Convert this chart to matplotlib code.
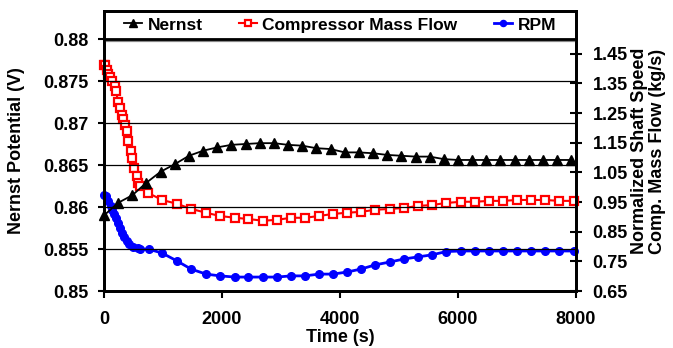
import matplotlib
matplotlib.use("Agg")
import matplotlib.pyplot as plt

plt.rcParams['font.family'] = ['Liberation Sans', 'DejaVu Sans']
plt.rcParams['font.weight'] = 'bold'

# Nernst potential (V), left axis
nernst_t = [0, 240, 480, 720, 960, 1200, 1440, 1680, 1920, 2160, 2400, 2640,
            2880, 3120, 3360, 3600, 3840, 4080, 4320, 4560, 4800, 5040, 5280,
            5520, 5760, 6000, 6240, 6480, 6720, 6960, 7200, 7440, 7680, 7920]
nernst_v = [0.8590, 0.8605, 0.8614, 0.8629, 0.8642, 0.8651, 0.8661, 0.8667,
            0.8671, 0.8674, 0.8675, 0.8676, 0.8676, 0.8674, 0.8673, 0.8670,
            0.8669, 0.8665, 0.8665, 0.8664, 0.8662, 0.8661, 0.8660, 0.8660,
            0.8657, 0.8656, 0.8656, 0.8656, 0.8656, 0.8656, 0.8656, 0.8656,
            0.8656, 0.8656]

# compressor mass flow (kg/s), right axis
flow_t = [0, 20, 45, 75, 100, 140, 185, 205, 240, 270, 300, 325, 355, 385,
          410, 450, 480, 515, 555, 570, 610, 745, 985, 1240, 1475, 1730,
          1965, 2220, 2440, 2695, 2930, 3170, 3405, 3645, 3880, 4120, 4355,
          4595, 4850, 5085, 5320, 5560, 5800, 6050, 6290, 6525, 6765, 7000,
          7240, 7475, 7715, 7965]
flow_v = [1.413, 1.413, 1.397, 1.383, 1.371, 1.357, 1.340, 1.323, 1.286,
          1.268, 1.245, 1.231, 1.211, 1.188, 1.157, 1.121, 1.099, 1.066,
          1.039, 1.015, 1.005, 0.981, 0.957, 0.944, 0.927, 0.914, 0.903,
          0.897, 0.893, 0.887, 0.890, 0.897, 0.897, 0.903, 0.910, 0.914,
          0.917, 0.924, 0.927, 0.930, 0.937, 0.940, 0.947, 0.951, 0.951,
          0.954, 0.954, 0.957, 0.957, 0.957, 0.954, 0.954]

# normalized shaft speed, right axis
rpm_t = [0, 30, 70, 115, 140, 170, 200, 230, 270, 310, 345, 385, 430, 495,
         570, 610, 760, 985, 1240, 1475, 1730, 1965, 2220, 2440, 2695, 2930,
         3170, 3405, 3645, 3880, 4120, 4355, 4595, 4850, 5085, 5320, 5560,
         5800, 6050, 6290, 6525, 6765, 7000, 7240, 7475, 7715, 7965]
rpm_v = [0.974, 0.969, 0.952, 0.937, 0.924, 0.910, 0.897, 0.880, 0.863,
         0.846, 0.832, 0.817, 0.808, 0.800, 0.794, 0.791, 0.791, 0.778,
         0.751, 0.724, 0.707, 0.701, 0.697, 0.697, 0.697, 0.697, 0.701,
         0.701, 0.707, 0.707, 0.714, 0.724, 0.738, 0.748, 0.758, 0.765,
         0.772, 0.783, 0.785, 0.785, 0.785, 0.785, 0.785, 0.785, 0.785,
         0.785, 0.785]

left_ticks = [0.85, 0.855, 0.86, 0.865, 0.87, 0.875, 0.88]
left_labels = ['0.85', '0.855', '0.86', '0.865', '0.87', '0.875', '0.88']
right_ticks = [0.65, 0.75, 0.85, 0.95, 1.05, 1.15, 1.25, 1.35, 1.45]
x_ticks = [0, 2000, 4000, 6000, 8000]

fig = plt.figure(figsize=(6.73, 3.48), dpi=100)
ax = fig.add_axes([104 / 673, 57 / 348, 472 / 673, 280 / 348])
ax2 = ax.twinx()
ax.set_zorder(ax2.get_zorder() + 1)
ax.patch.set_visible(False)

ax.set_xlim(0, 8000)
ax.set_ylim(0.85, 0.88 + 0.03 / 9)
ax2.set_ylim(0.65, 0.65 + 0.85 / 0.9)

ax.set_yticks(left_ticks)
ax.set_yticklabels(left_labels)
ax2.set_yticks(right_ticks)
ax.set_xticks(x_ticks)

ax.yaxis.grid(True, color='black', lw=0.9)
ax.axhline(0.88 - 0.00026, color='#888888', lw=1.6, zorder=2)
ax.axhline(0.88, color='black', lw=2.0, zorder=3)

h1, = ax.plot(nernst_t, nernst_v, color='black', lw=1.3, marker='^',
              ms=6.5, label='Nernst', clip_on=False, zorder=4)
h2, = ax2.plot(flow_t, flow_v, color='red', lw=1.5, marker='s', ms=5.5,
               mfc='white', mec='red', mew=1.6, label='Compressor Mass Flow',
               clip_on=False)
h3, = ax2.plot(rpm_t, rpm_v, color='blue', lw=2.0, marker='o', ms=5.5,
               label='RPM', clip_on=False)

for a in (ax, ax2):
    for s in a.spines.values():
        s.set_linewidth(2.0)

ax.tick_params(axis='y', direction='out', length=4.5, width=1.5,
               labelsize=13, pad=6.5)
ax.tick_params(axis='x', direction='out', length=5, width=1.5, labelsize=13,
               pad=9.5)
ax2.tick_params(axis='y', direction='inout', length=8, width=1.5,
                labelsize=13, pad=8)

ax.set_xlabel('Time (s)', fontsize=13, fontweight='bold', labelpad=0.5)
ax.set_ylabel('Nernst Potential (V)', fontsize=13, fontweight='bold',
              labelpad=13)
ax2.set_ylabel('Normalized Shaft Speed\nComp. Mass Flow (kg/s)', fontsize=13,
               fontweight='bold', labelpad=2, linespacing=1.1)

ax.legend(handles=[h1, h2, h3], loc='center', bbox_to_anchor=(0.5, 0.95),
          ncol=3, frameon=False, fontsize=12.5, handlelength=1.05,
          handletextpad=0.3, columnspacing=2.1, markerscale=0.8,
          borderaxespad=0)

fig.savefig('out.png', dpi=100)
